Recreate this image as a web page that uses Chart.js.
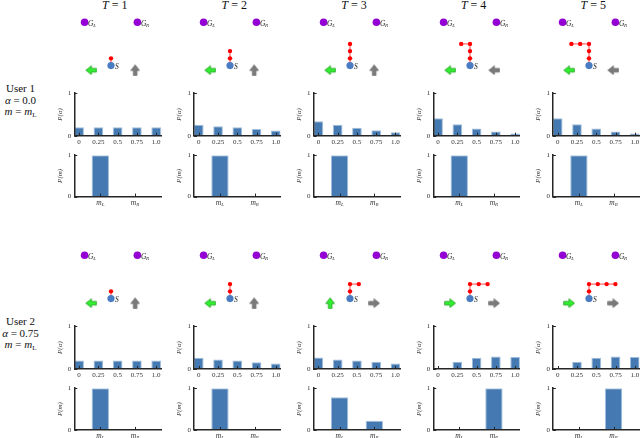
<!DOCTYPE html>
<html><head><meta charset="utf-8">
<script src="https://cdn.jsdelivr.net/npm/chart.js@4.4.0/dist/chart.umd.min.js"></script>
<style>
html,body{margin:0;padding:0;background:#fff;}
#fig{position:relative;width:640px;height:438px;overflow:hidden;background:#fff;}
#fig canvas{position:absolute;}
.txt{position:absolute;font-family:"Liberation Serif",serif;color:#111;white-space:nowrap;}
</style></head><body><div id="fig"></div><script>
// ---------------- data ----------------
const timeSteps = [1, 2, 3, 4, 5];
const alphaValues = [0, 0.25, 0.5, 0.75, 1.0];
const alphaTickLabels = ['0', '0.25', '0.5', '0.75', '1.0'];
const modeValues = [0, 1];
const modeSubs = ['L', 'R'];
const userNames = ['User 1', 'User 2'];
const userAlphaText = ['0.0', '0.75'];
const userModeSub = ['L', 'L'];

const user1PAlpha = [
  [0.20, 0.20, 0.20, 0.20, 0.20],
  [0.26, 0.22, 0.20, 0.16, 0.12],
  [0.34, 0.26, 0.19, 0.13, 0.08],
  [0.41, 0.27, 0.17, 0.10, 0.05],
  [0.41, 0.27, 0.17, 0.10, 0.05]
];
const user2PAlpha = [
  [0.20, 0.20, 0.20, 0.20, 0.20],
  [0.26, 0.22, 0.20, 0.16, 0.13],
  [0.27, 0.22, 0.20, 0.17, 0.13],
  [0.005, 0.17, 0.26, 0.29, 0.28],
  [0.005, 0.17, 0.26, 0.29, 0.28]
];
const user1PMode = [[1, 0.005], [1, 0.005], [1, 0.005], [1, 0.005], [1, 0.005]];
const user2PMode = [[1, 0.005], [1, 0.005], [0.78, 0.22], [0.005, 1], [0.005, 1]];

// grid paths (cells visited after start S = (0,0))
const user1Paths = [
  [[0,1]],
  [[0,1],[0,2]],
  [[0,1],[0,2],[0,3]],
  [[0,1],[0,2],[0,3],[-1,3]],
  [[0,1],[0,2],[0,3],[-1,3],[-2,3]]
];
const user2Paths = [
  [[0,1]],
  [[0,1],[0,2]],
  [[0,1],[0,2],[1,2]],
  [[0,1],[0,2],[1,2],[2,2]],
  [[0,1],[0,2],[1,2],[2,2],[3,2]]
];
const goalCells = [[-3, 6], [3, 6]];
const goalSubs = ['L', 'R'];
const arrowCells = [[-2.25, -0.65], [2.75, -0.65]];
const user1Green = ['left','left','left','left','left'];
const user1Gray  = ['up','up','up','left','left'];
const user2Green = ['left','left','up','right','right'];
const user2Gray  = ['up','up','right','right','right'];

// ---------------- layout / style ----------------
const fig = document.getElementById('fig');
const SERIF = '"Liberation Serif", "DejaVu Serif", serif';
const AXIS = '#262626';
const BAR_FILL = '#4479b1';
const BAR_EDGE = '#9fbddc';
const COL_DX = 119.65, ROW_DY = 233.3;
const AX_LEFT0 = 74.3, AX_W = 86.7;
const A_TOP0 = 91, A_BOT0 = 135.7, M_TOP0 = 153.3, M_BOT0 = 196.6;
const S_X0 = 110.7, S_Y0 = 68.5;
const DX_UNIT = 10, DY_UNIT = 77 / 9;

const inwardTicks = {
  id: 'inwardTicks',
  afterDraw(chart) {
    const {ctx, chartArea: a} = chart;
    const x = chart.scales.x, y = chart.scales.y;
    ctx.save();
    ctx.strokeStyle = AXIS; ctx.lineWidth = 1;
    x.ticks.forEach(t => {
      const px = Math.round(x.getPixelForValue(t.value)) + 0.5;
      ctx.beginPath(); ctx.moveTo(px, a.bottom); ctx.lineTo(px, a.bottom - 3); ctx.stroke();
    });
    y.ticks.forEach(t => {
      const py = Math.round(y.getPixelForValue(t.value)) + 0.5;
      ctx.beginPath(); ctx.moveTo(a.left, py); ctx.lineTo(a.left + 3, py); ctx.stroke();
    });
    ctx.restore();
  }
};

const modeLabelPlugin = {
  id: 'modeLabels',
  afterDraw(chart) {
    if (!chart.options.plugins.modeLabels || !chart.options.plugins.modeLabels.on) return;
    const {ctx, chartArea: a} = chart;
    const x = chart.scales.x;
    ctx.save();
    ctx.fillStyle = '#333';
    ctx.textBaseline = 'alphabetic';
    modeValues.forEach((v, i) => {
      const px = x.getPixelForValue(v);
      ctx.font = 'italic 7.5px ' + SERIF;
      const w1 = ctx.measureText('m').width;
      ctx.font = 'italic 5px ' + SERIF;
      const w2 = ctx.measureText(modeSubs[i]).width;
      const x0 = px - (w1 + w2) / 2;
      ctx.font = 'italic 7.5px ' + SERIF;
      ctx.fillText('m', x0, a.bottom + 8);
      ctx.font = 'italic 5px ' + SERIF;
      ctx.fillText(modeSubs[i], x0 + w1, a.bottom + 9.5);
    });
    ctx.restore();
  }
};

function barChart(axLeft, top, bottom, xMin, xMax, ticks, values, yTitle, tickLabels) {
  const right = axLeft + AX_W;
  const cl = Math.floor(axLeft - 22);
  const ct = Math.floor(top - 5);
  const cw = Math.ceil(right + 5) - cl;
  const ch = Math.ceil(bottom + 12) - ct;
  const c = document.createElement('canvas');
  c.width = cw; c.height = ch;
  c.style.left = cl + 'px'; c.style.top = ct + 'px';
  c.style.width = cw + 'px'; c.style.height = ch + 'px';
  fig.appendChild(c);
  const yW = axLeft - cl;
  const xH = ct + ch - bottom;
  const titleFont = {family: SERIF, size: 7, style: 'italic'};
  const tickFont = {family: SERIF, size: 7};
  new Chart(c, {
    type: 'bar',
    data: {
      datasets: [{
        data: values.map((v, i) => ({x: ticks[i], y: v})),
        backgroundColor: BAR_FILL, borderColor: BAR_EDGE, borderWidth: 1,
        barPercentage: 1, categoryPercentage: 0.5
      }]
    },
    options: {
      responsive: false, animation: false, devicePixelRatio: 1,
      layout: {padding: {top: top - ct, right: cw - (right - cl), left: 0, bottom: 0}},
      plugins: {legend: {display: false}, tooltip: {enabled: false}, modeLabels: {on: !tickLabels}},
      scales: {
        x: {
          type: 'linear', min: xMin, max: xMax, offset: false,
          grid: {display: false, drawTicks: false},
          border: {display: true, color: AXIS, width: 1.5, z: 1},
          afterBuildTicks: s => { s.ticks = ticks.map(v => ({value: v})); },
          afterFit: s => { s.height = xH; },
          ticks: {display: !!tickLabels, autoSkip: false, maxRotation: 0, padding: 2,
            font: tickFont, color: '#333',
            callback: (v, i) => tickLabels ? tickLabels[i] : ''}
        },
        y: {
          type: 'linear', min: 0, max: 1,
          grid: {display: false, drawTicks: false},
          border: {display: true, color: AXIS, width: 1.5, z: 1},
          afterBuildTicks: s => { s.ticks = [{value: 0}, {value: 1}]; },
          afterFit: s => { s.width = yW; },
          ticks: {padding: 3, font: tickFont, color: '#333', callback: v => String(v)},
          title: {display: true, text: yTitle, font: titleFont, color: '#333',
            padding: {top: (axLeft - 14.5) - cl - 4.2, bottom: 0}}
        }
      }
    },
    plugins: [inwardTicks, modeLabelPlugin]
  });
}

function arrowImg(fill, stroke) {
  const c = document.createElement('canvas');
  c.width = 12; c.height = 10;
  const g = c.getContext('2d');
  g.beginPath();
  g.moveTo(0.7, 3.2); g.lineTo(5.8, 3.2); g.lineTo(5.8, 0.7); g.lineTo(11.3, 5);
  g.lineTo(5.8, 9.3); g.lineTo(5.8, 6.8); g.lineTo(0.7, 6.8); g.closePath();
  g.fillStyle = fill; g.fill();
  g.strokeStyle = stroke; g.lineWidth = 0.8; g.stroke();
  return c;
}
const GREEN_ARROW = arrowImg('#2ef02e', '#1a9a1a');
const GRAY_ARROW = arrowImg('#7a7a7a', '#6a6a6a');
const ROT = {right: 0, down: 90, left: 180, up: 270};

const diagLabels = {
  id: 'diagLabels',
  afterDatasetsDraw(chart) {
    const {ctx} = chart;
    const x = chart.scales.x, y = chart.scales.y;
    const put = (gx, gy, main, sub, dx, dy) => {
      const px = x.getPixelForValue(gx) + dx, py = y.getPixelForValue(gy) + dy;
      ctx.font = 'italic 7.5px ' + SERIF;
      ctx.fillStyle = '#222';
      ctx.fillText(main, px, py);
      if (sub) {
        const w = ctx.measureText(main).width;
        ctx.font = 'italic 5px ' + SERIF;
        ctx.fillText(sub, px + w - 0.3, py + 1.5);
      }
    };
    ctx.save();
    ctx.textBaseline = 'alphabetic';
    goalCells.forEach((g, i) => put(g[0], g[1], 'G', goalSubs[i], 3.5, 3.5));
    put(0, 0, 'S', '', 4, 3.5);
    ctx.restore();
  }
};

function diagram(col, row, path, greenDir, grayDir) {
  const sx = S_X0 + col * COL_DX, sy = S_Y0 + row * ROW_DY;
  const cw = 100, ch = 77;
  const cl = Math.round(sx - 50), ct = Math.round(sy - 7 * DY_UNIT);
  const c = document.createElement('canvas');
  c.width = cw; c.height = ch;
  c.style.left = cl + 'px'; c.style.top = ct + 'px';
  c.style.width = cw + 'px'; c.style.height = ch + 'px';
  fig.appendChild(c);
  const pts = path.map(p => ({x: p[0], y: p[1]}));
  new Chart(c, {
    type: 'scatter',
    data: {
      datasets: [
        {data: [{x: 0, y: 0}], pointRadius: 3.6, backgroundColor: '#4a7cc4', borderWidth: 0},
        {data: pts, pointRadius: 2.2, backgroundColor: '#ff0000', borderWidth: 0},
        {data: [{x: 0, y: 0}].concat(pts), showLine: true, borderColor: 'rgba(255,60,60,0.75)',
          borderWidth: 1.3, pointRadius: 0},
        {data: goalCells.map(g => ({x: g[0], y: g[1]})), pointRadius: 3.8,
          backgroundColor: '#9400d3', borderWidth: 0},
        {data: arrowCells.map(a => ({x: a[0], y: a[1]})), pointRadius: 5,
          pointStyle: [GREEN_ARROW, GRAY_ARROW],
          pointRotation: [ROT[greenDir], ROT[grayDir]]}
      ]
    },
    options: {
      responsive: false, animation: false, devicePixelRatio: 1,
      layout: {padding: 0},
      plugins: {legend: {display: false}, tooltip: {enabled: false}},
      scales: {
        x: {type: 'linear', min: -5, max: 5, display: false},
        y: {type: 'linear', min: -2, max: 7, display: false}
      }
    },
    plugins: [diagLabels]
  });
}

function addText(html, left, top, size, extra) {
  const d = document.createElement('div');
  d.className = 'txt';
  d.innerHTML = html;
  d.style.left = left + 'px'; d.style.top = top + 'px';
  d.style.fontSize = size + 'px';
  if (extra) Object.assign(d.style, extra);
  fig.appendChild(d);
  return d;
}

// ---------------- build ----------------
const allPAlpha = [user1PAlpha, user2PAlpha];
const allPMode = [user1PMode, user2PMode];
const allPaths = [user1Paths, user2Paths];
const allGreen = [user1Green, user2Green];
const allGray = [user1Gray, user2Gray];

timeSteps.forEach((t, col) => {
  const sx = S_X0 + col * COL_DX;
  addText('<i>T</i> = ' + t, sx + 4 - 30, -1.5, 12,
    {width: '60px', textAlign: 'center', lineHeight: '12px'});
  for (let r = 0; r < 2; r++) {
    const axLeft = AX_LEFT0 + col * COL_DX;
    diagram(col, r, allPaths[r][col], allGreen[r][col], allGray[r][col]);
    barChart(axLeft, A_TOP0 + r * ROW_DY, A_BOT0 + r * ROW_DY, -0.0625, 1.0625,
      alphaValues, allPAlpha[r][col], 'P(α)', alphaTickLabels);
    barChart(axLeft, M_TOP0 + r * ROW_DY, M_BOT0 + r * ROW_DY, -0.75, 1.75,
      modeValues, allPMode[r][col], 'P(m)', null);
  }
});

userNames.forEach((u, r) => {
  addText(u + '<br><i>α</i> = ' + userAlphaText[r] +
    '<br><i>m</i> = <i>m</i><sub style="font-size:7px;vertical-align:-2px">' + userModeSub[r] + '</sub>',
    0, 83 + r * ROW_DY, 11, {width: '41px', textAlign: 'center', lineHeight: '11.5px'});
});
</script></body></html>
